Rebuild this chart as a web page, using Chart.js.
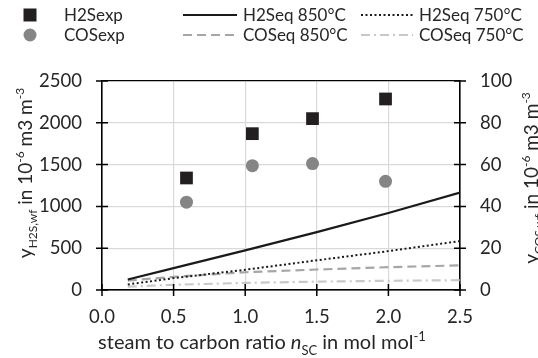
<!DOCTYPE html>
<html>
<head>
<meta charset="utf-8">
<script src="https://cdn.jsdelivr.net/npm/chart.js@4.4.1/dist/chart.umd.min.js"></script>
<style>
  html, body { margin: 0; padding: 0; background: #fff; }
  #wrap { width: 538px; height: 358px; }
</style>
</head>
<body>
<div id="wrap"><canvas id="chart" width="538" height="358"></canvas></div>
<script>
// experiments
var expRatio = [0.59, 1.05, 1.47, 1.98];
var h2sExp = [1340, 1870, 2050, 2285];
var cosExp = [42, 59.5, 60.5, 52];

// equilibrium calculation
var eqRatio = [0.18, 0.5, 1.0, 1.5, 2.0, 2.5];
var h2sEq850 = [125, 262, 474, 693, 921, 1165];
var h2sEq750 = [66, 142, 242, 355, 465, 585];
var cosEq850 = [4.5, 6.3, 8.5, 9.8, 10.9, 11.8];
var cosEq750 = [1.6, 2.5, 3.4, 4.0, 4.4, 4.7];

var seriesNames = ["H2Sexp", "COSexp", "H2Seq 850°C", "H2Seq 750°C", "COSeq 850°C", "COSeq 750°C"];

var FONT = "Lato";
var TEXT = "#262626";
var GRID = "#d9d9d9";

function pairs(xs, ys) {
    return xs.map(function (x, i) { return { x: x, y: ys[i] }; });
}

function partFont(p, size) {
    var s = (p[1] == "sub" || p[1] == "sup") ? Math.round(size * 0.65) : size;
    return (p[1] == "it" ? "italic " : "") + s + "px " + FONT;
}

// text with sub/superscripts, centred on x
function drawRich(ctx, parts, x, y, size) {
    var total = 0;
    parts.forEach(function (p) {
        ctx.font = partFont(p, size);
        total += ctx.measureText(p[0]).width;
    });
    var cx = x - total / 2;
    ctx.textAlign = "left";
    ctx.textBaseline = "alphabetic";
    parts.forEach(function (p) {
        ctx.font = partFont(p, size);
        var dy = p[1] == "sub" ? size * 0.28 : (p[1] == "sup" ? -size * 0.42 : 0);
        ctx.fillText(p[0], cx, y + dy);
        cx += ctx.measureText(p[0]).width;
    });
}

var extras = {
    id: "extras",
    afterDraw: function (chart) {
        var ctx = chart.ctx;
        var area = chart.chartArea;
        var sx = chart.scales.x, sy = chart.scales.y, sy1 = chart.scales.y1;
        ctx.save();

        // cross tick marks
        ctx.strokeStyle = "#000";
        ctx.lineWidth = 1.5;
        ctx.beginPath();
        sy.ticks.forEach(function (t) {
            var py = sy.getPixelForValue(t.value);
            ctx.moveTo(area.left - 6, py); ctx.lineTo(area.left + 6, py);
        });
        sy1.ticks.forEach(function (t) {
            var py = sy1.getPixelForValue(t.value);
            ctx.moveTo(area.right - 6, py); ctx.lineTo(area.right + 6, py);
        });
        sx.ticks.forEach(function (t) {
            var px = sx.getPixelForValue(t.value);
            ctx.moveTo(px, area.bottom - 6); ctx.lineTo(px, area.bottom + 6);
        });
        ctx.stroke();

        // axis titles
        ctx.fillStyle = TEXT;
        drawRich(ctx, [["steam to carbon ratio ", ""], ["n", "it"], ["SC", "sub"], [" in mol mol", ""], ["-1", "sup"]], 262, 349, 20);

        ctx.save();
        ctx.translate(32, 173);
        ctx.rotate(-Math.PI / 2);
        drawRich(ctx, [["y", ""], ["H2S,wf", "sub"], [" in 10", ""], ["-6", "sup"], [" m3 m", ""], ["-3", "sup"]], 0, 0, 19);
        ctx.restore();

        ctx.save();
        ctx.translate(538, 178);
        ctx.rotate(-Math.PI / 2);
        drawRich(ctx, [["y", ""], ["COS,wf", "sub"], [" in 10", ""], ["-6", "sup"], [" m3 m", ""], ["-3", "sup"]], 0, 0, 19);
        ctx.restore();

        // legend, three columns by two rows
        var ds = chart.data.datasets;
        var slots = [
            [0, 30, 15], [1, 30, 35],
            [2, 183, 15], [4, 183, 35],
            [3, 361, 15], [5, 361, 35]
        ];
        slots.forEach(function (s) {
            var d = ds[s[0]];
            var x = s[1], y = s[2], tx;
            if (s[0] == 0) {
                ctx.fillStyle = d.backgroundColor;
                ctx.fillRect(x - 6.5, y - 6.5, 13, 13);
                tx = 64;
            } else if (s[0] == 1) {
                ctx.fillStyle = d.backgroundColor;
                ctx.beginPath();
                ctx.arc(x, y, 6.5, 0, Math.PI * 2);
                ctx.fill();
                tx = 64;
            } else {
                var len = x == 183 ? 54 : 52;
                ctx.strokeStyle = d.borderColor;
                ctx.lineWidth = d.borderWidth;
                ctx.setLineDash(d.borderDash || []);
                ctx.beginPath();
                ctx.moveTo(x, y); ctx.lineTo(x + len, y);
                ctx.stroke();
                ctx.setLineDash([]);
                tx = x + len + 6;
            }
            ctx.fillStyle = TEXT;
            ctx.font = "17px " + FONT;
            ctx.textAlign = "left";
            ctx.textBaseline = "middle";
            ctx.fillText(d.label, tx, y + 1);
        });

        ctx.restore();
    }
};

var tickFont = { family: FONT, size: 18.5 };

var ctx = document.getElementById("chart").getContext("2d");
var chart = new Chart(ctx, {
    type: "scatter",
    data: {
        datasets: [
            {
                label: seriesNames[0], data: pairs(expRatio, h2sExp), yAxisID: "y",
                pointStyle: "rect", pointRadius: 9, backgroundColor: "#231f20", borderColor: "#231f20", borderWidth: 0
            },
            {
                label: seriesNames[1], data: pairs(expRatio, cosExp), yAxisID: "y1",
                pointStyle: "circle", pointRadius: 6.5, backgroundColor: "#858585", borderColor: "#858585", borderWidth: 0
            },
            {
                label: seriesNames[2], data: pairs(eqRatio, h2sEq850), yAxisID: "y", showLine: true,
                pointRadius: 0, borderColor: "#1a1a1a", borderWidth: 2.2
            },
            {
                label: seriesNames[3], data: pairs(eqRatio, h2sEq750), yAxisID: "y", showLine: true,
                pointRadius: 0, borderColor: "#1a1a1a", borderWidth: 2, borderDash: [2, 2.5]
            },
            {
                label: seriesNames[4], data: pairs(eqRatio, cosEq850), yAxisID: "y1", showLine: true,
                pointRadius: 0, borderColor: "#a6a6a6", borderWidth: 2.2, borderDash: [9, 5]
            },
            {
                label: seriesNames[5], data: pairs(eqRatio, cosEq750), yAxisID: "y1", showLine: true,
                pointRadius: 0, borderColor: "#c8c8c8", borderWidth: 2.2, borderDash: [9, 4, 2, 4]
            }
        ]
    },
    options: {
        responsive: false,
        animation: false,
        devicePixelRatio: 1,
        layout: { padding: { top: 81, left: 0, right: 0, bottom: 0 } },
        plugins: { legend: { display: false }, tooltip: { enabled: false } },
        scales: {
            x: {
                type: "linear", min: 0, max: 2.5,
                afterFit: function (s) { s.height = 68; },
                ticks: {
                    stepSize: 0.5, color: TEXT, padding: 16, font: tickFont,
                    callback: function (v) { return v.toFixed(1); }
                },
                grid: {
                    drawTicks: false, lineWidth: 1.2,
                    color: function (c) { return (c.tick && (c.tick.value == 0 || c.tick.value == 2.5)) ? "#000" : GRID; }
                },
                border: { color: "#000", width: 1.5 }
            },
            y: {
                position: "left", min: 0, max: 2500,
                afterFit: function (s) { s.width = 102; },
                ticks: {
                    stepSize: 500, color: TEXT, padding: 20, font: tickFont,
                    callback: function (v) { return String(v); }
                },
                grid: {
                    drawTicks: false, lineWidth: 1.2,
                    color: function (c) { return (c.tick && (c.tick.value == 0 || c.tick.value == 2500)) ? "#000" : GRID; }
                },
                border: { color: "#000", width: 1.5 }
            },
            y1: {
                position: "right", min: 0, max: 100,
                afterFit: function (s) { s.width = 78; },
                ticks: {
                    stepSize: 20, color: TEXT, padding: 20, font: tickFont,
                    callback: function (v) { return String(v); }
                },
                grid: { drawTicks: false, drawOnChartArea: false },
                border: { color: "#000", width: 1.5 }
            }
        }
    },
    plugins: [extras]
});
</script>
</body>
</html>
